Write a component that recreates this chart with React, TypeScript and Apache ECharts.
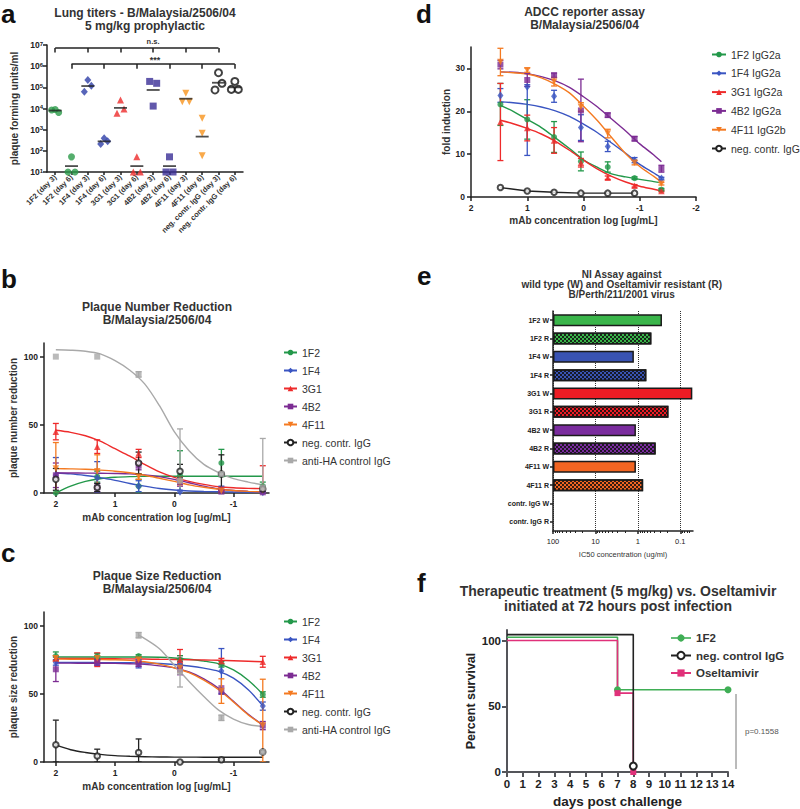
import React, { useEffect, useRef } from 'react';
import * as echarts from 'echarts';

const FONT = 'Liberation Sans, Arial, sans-serif';
const INK = '#222';
const TXT = '#333';

/* ================= panel a: lung titers ================= */
const aCategories = ['1F2 (day 3)', '1F2 (day 6)', '1F4 (day 3)', '1F4 (day 6)', '3G1 (day 3)', '3G1 (day 6)', '4B2 (day 3)', '4B2 (day 6)', '4F11 (day 3)', '4F11 (day 6)', 'neg. contr. IgG (day 3)', 'neg. contr. IgG (day 6)'];
const aGroups = ['1F2', '1F2', '1F4', '1F4', '3G1', '3G1', '4B2', '4B2', '4F11', '4F11', 'neg', 'neg'];
const aTiters = [
  [8500, 6500, 9000],
  [10, 10, 52],
  [62000, 120000, 220000],
  [210, 280, 390],
  [5900, 9500, 25000],
  [10, 10, 52],
  [190000, 155000, 13000],
  [10, 10, 52],
  [21000, 21000, 53000],
  [3500, 680, 59],
  [75000, 155000, 490000],
  [80000, 80000, 190000],
];
const aMeans = [8000, 19, 115000, 280, 10700, 19, 75000, 19, 29000, 470, 165000, 100000];
const aYTicks = [10, 100, 1000, 10000, 100000, 1000000, 10000000];
const nsBracket = { from: 0, to: 10, step: 2, level: 7.2e6, foot: 4.4e6, label: 'n.s.' };
const sigBracket = { from: 1, to: 11, step: 2, level: 1.26e6, foot: 7.6e5, label: '***' };

/* ================= panel b: plaque number reduction ================= */
const bLogConc = [2, 1.301, 0.602, -0.097, -0.796, -1.495];
const b1F2 = [0, 12, 5, 13, 22, 5];
const b1F2Sd = [0, 4, 5, 18, 10, 3];
const b1F4 = [13, 11, 5, 1, 2, 0.5];
const b1F4Sd = [13, 12, 4, 1, 3, 0.5];
const b3G1 = [45, 34, 29, 10, 3, 4];
const b3G1Sd = [6, 5, 3, 2, 1, 16];
const b4B2 = [13, 4, 20, 8, 1, 0.5];
const b4B2Sd = [9, 3, 3, 3, 1, 0.5];
const b4F11 = [18, 16, 12, 8, 1.5, 2];
const b4F11Sd = [19, 12, 2, 2, 1, 2];
const bNeg = [10, 4, 22, 16, 14, 3];
const bNegSd = [8, 3, 8, 5, 14, 2];
const bAntiHA = [100, 100, 87, 9, 14, 4];
const bAntiHASd = [0, 0, 2, 38, 0, 36];
const bFitX = [2, 1.75, 1.5, 1.25, 1, 0.75, 0.5, 0.25, 0, -0.25, -0.5, -0.75, -1, -1.25, -1.5];
const bFit1F2 = [0, 5, 8.5, 10.5, 11.5, 12, 12.2, 12.3, 12.3, 12.3, 12.3, 12.3, 12.3, 12.3, 12.3];
const bFit1F4 = [14.7, 14, 12.8, 11.3, 9.3, 7, 5, 3.3, 2.2, 1.5, 1.1, 0.9, 0.7, 0.6, 0.6];
const bFit3G1 = [46, 44.5, 42, 38, 32.5, 27, 21, 15.5, 11.5, 8.5, 6.3, 4.6, 3.8, 3.4, 3.2];
const bFit4B2 = [14.7, 14.7, 14.6, 14.5, 14.3, 14, 13.3, 12, 10, 7.5, 5, 3, 1.8, 1.2, 0.8];
const bFit4F11 = [17.9, 17.7, 17.4, 16.8, 16, 14.8, 13, 10.8, 8.5, 6, 4.2, 2.8, 1.8, 1.2, 0.8];
const bFitAntiHA = [105, 104.7, 104, 102, 97, 90, 80, 64, 45, 31, 21, 15, 10.5, 8, 6];

/* ================= panel c: plaque size reduction ================= */
const cLogConc = [2, 1.301, 0.602, -0.097, -0.796, -1.495];
const c1F2 = [77.7, 77.7, 77.7, 75, 71.6, 49.5];
const c1F2Sd = [3, 2, 1, 3, 2, 2];
const c1F4 = [73, 73, 72, 71.6, 66.7, 41];
const c1F4Sd = [2, 2, 3, 2, 16.5, 3];
const c3G1 = [76, 75, 74.8, 75, 74, 73.5];
const c3G1Sd = [2, 5, 2, 7.5, 2, 4];
const c4B2 = [68, 73, 72, 68, 52.7, 26.7];
const c4B2Sd = [9, 2, 2, 4, 3, 3];
const c4F11 = [76, 76, 75, 69, 52, 26.7];
const c4F11Sd = [2, 2, 2, 3, 9, 34];
const cNeg = [12.7, 4.4, 6.9, 0, 1.7, 7.4];
const cNegSd = [18, 5, 10, 0, 0.5, 1];
const cAntiHA = [null, null, 93, 66, 32.4, 7.4];
const cAntiHASd = [null, null, 2, 11, 2, 1];
const cFitX = [2, 1.75, 1.5, 1.25, 1, 0.75, 0.5, 0.25, 0, -0.25, -0.5, -0.75, -1, -1.25, -1.5];
const cFit1F2 = [77, 77, 77, 77, 77, 77, 77, 76.8, 76.3, 75.3, 74, 72, 67.5, 60, 49.5];
const cFit1F4 = [73, 73, 73, 72.9, 72.9, 72.8, 72.6, 72.2, 71.5, 70.4, 68.8, 66.5, 61.5, 53, 41];
const cFit3G1 = [76, 75.9, 75.9, 75.8, 75.7, 75.6, 75.5, 75.3, 75.2, 75, 74.8, 74.6, 74.3, 73.9, 73.5];
const cFit4B2 = [72.5, 72.5, 72.4, 72.4, 72.3, 72, 71.6, 70.5, 69, 66, 61, 54, 44.5, 35, 27];
const cFit4F11 = [75.5, 75.4, 75.3, 75.2, 75, 74.5, 73.5, 71.8, 69, 65.5, 60, 53, 44, 34.5, 27];
const cFitNeg = [12.5, 9, 7, 5.6, 4.7, 4.2, 3.9, 3.7, 3.6, 3.6, 3.5, 3.5, 3.5, 3.5, 3.5];
const cFitAntiHAX = [0.602, 0.5, 0.25, 0, -0.25, -0.5, -0.75, -1, -1.25, -1.5];
const cFitAntiHA = [93, 90.5, 83, 71, 59, 48, 38, 31.5, 27.5, 26];

/* ================= panel d: ADCC reporter assay ================= */
const dLogConc = [1.477, 1.0, 0.523, 0.046, -0.431, -0.908, -1.385];
const d1F2 = [21.6, 18.1, 14.0, 8.3, 7.0, 4.4, 1.7];
const d1F2Sd = [4.9, 4.6, 3.6, 2.2, 1.2, 0.3, 0.3];
const d1F4 = [23.7, 25.7, 23.5, 16.2, 11.8, 8.6, 4.3];
const d1F4Sd = [1.6, [16, 0.5], 1.4, 3, 1.2, 0.6, 0.3];
const d3G1 = [17.5, 16.1, 13.2, 8.0, 4.5, 2.6, 1.4];
const d3G1Sd = [9, 3, 3, 1, 0.4, 0.3, 0.2];
const d4B2 = [30.9, 27.3, 28.4, 20.2, 19.1, 13.6, 6.6];
const d4B2Sd = [1, 1.5, 0.5, 7.3, 0.5, 0.5, 0.8];
const d4F11 = [31.5, 29.6, 26.9, 21, 14.8, 8, 3.1];
const d4F11Sd = [3.2, 0.5, 1, 1, 1, 0.5, 0.3];
const dNeg = [2.2, 1.4, 1.1, 0.9, 0.9, 0.9, null];
const dFitX = [1.477, 1.25, 1, 0.75, 0.5, 0.25, 0, -0.25, -0.5, -0.75, -1, -1.25, -1.385];
const dFit1F2 = [21.4, 20, 18.1, 16.2, 13.8, 11.3, 8.7, 6.9, 5.4, 4.7, 4.1, 3.6, 3.3];
const dFit1F4 = [22.2, 22, 21.6, 21, 20.1, 18.8, 17, 15, 12.6, 10.2, 7.6, 5.6, 4.5];
const dFit3G1 = [17.9, 17.1, 16, 14.7, 13, 10.9, 8.6, 6.5, 4.8, 3.5, 2.5, 1.8, 1.4];
const dFit4B2 = [29.2, 29.1, 28.8, 28.1, 27.1, 25.6, 23.4, 21, 18.2, 15.4, 12.4, 9.8, 8.2];
const dFit4F11 = [29.2, 29, 28.7, 27.8, 26.3, 24.3, 21.2, 17.8, 13.9, 10.1, 7.1, 4.8, 3.5];

/* ================= panel e: NI assay ================= */
const niLabels = ['1F2 W', '1F2 R', '1F4 W', '1F4 R', '3G1 W', '3G1 R', '4B2 W', '4B2 R', '4F11 W', '4F11 R', 'contr. IgG W', 'contr. IgG R'];
const niIC50 = [0.27, 0.48, 1.24, 0.63, 0.052, 0.19, 1.11, 0.38, 1.11, 0.75, null, null];
const niTickLabels = ['100', '10', '1', '0.1'];
const niMinorTickValues = [90, 80, 70, 60, 50, 40, 30, 20, 9, 8, 7, 6, 5, 4, 3, 2, 0.9, 0.8, 0.7, 0.6, 0.5, 0.4, 0.3, 0.2, 0.09, 0.08, 0.07, 0.06];
const niBarColors = ['#3ab54a', '#3ab54a', '#3953b3', '#3953b3', '#ed1c24', '#ed1c24', '#7a2c9e', '#7a2c9e', '#f26522', '#f26522', '#000', '#000'];

/* ================= panel f: survival ================= */
const f1F2Days = [0, 7, 14];
const f1F2Surv = [100, 60, 60];
const fNegDays = [0, 8];
const fNegSurv = [100, 0];
const fOselDays = [0, 7, 8];
const fOselSurv = [100, 60, 0];
const fPValue = 'p=0.1558';

/* ================= styling ================= */
const COL: any = { '1F2': '#23984a', '1F4': '#3a55c2', '3G1': '#ee2b2b', '4B2': '#7c2c93', '4F11': '#f47a21', neg: '#222222', antiHA: '#a9a9a9' };
const A_COL: any = { '1F2': '#2a9a48', '1F4': '#2e3ea8', '3G1': '#ee2b2b', '4B2': '#3a2e96', '4F11': '#f7941d', neg: '#111111' };
const SYM: any = { '1F2': 'circle', '1F4': 'diamond', '3G1': 'triangle', '4B2': 'rect', '4F11': 'triangle', neg: 'emptyCircle', antiHA: 'rect' };
const SYM_SIZE: any = { '1F2': 6, '1F4': [6, 8], '3G1': 6.5, '4B2': 6, '4F11': 6.5, neg: 5.5, antiHA: 6 };
const ROT: any = { '4F11': 180 };
const aJitter = [-3.5, 3.5, 0];
const aJitterScale = [1, 1, 1, 1, 1, 1, 1, 1, 1, 0, 1, 1];

function errorBarRender(color: string) {
  return (params: any, api: any) => {
    const x = api.value(0);
    const lo = api.value(2);
    const hi = api.value(3);
    const top = api.coord([x, hi]);
    const bot = api.coord([x, lo]);
    const st = { stroke: color, lineWidth: 1.3 };
    const cap = 3;
    return {
      type: 'group',
      children: [
        { type: 'line', shape: { x1: top[0], y1: top[1], x2: bot[0], y2: bot[1] }, style: st },
        { type: 'line', shape: { x1: top[0] - cap, y1: top[1], x2: top[0] + cap, y2: top[1] }, style: st },
        { type: 'line', shape: { x1: bot[0] - cap, y1: bot[1], x2: bot[0] + cap, y2: bot[1] }, style: st },
      ],
    };
  };
}

function errData(xs: number[], means: any[], errs: any[]) {
  const out: any[] = [];
  xs.forEach((x, i) => {
    const m = means[i];
    const e = errs ? errs[i] : null;
    if (m == null || e == null) return;
    const dn = Array.isArray(e) ? e[0] : e;
    const up = Array.isArray(e) ? e[1] : e;
    if (dn === 0 && up === 0) return;
    out.push([x, m, Math.max(m - dn, 0), m + up]);
  });
  return out;
}

const zip = (xs: number[], ys: any[]) => xs.map((x, i) => [x, ys[i]]).filter((p) => p[1] != null);

function doseSeries(grid: number, legendName: string, key: string, xs: number[], means: any[], errs: any[] | null, fit: any[] | null, connect = false) {
  const color = COL[key];
  const out: any[] = [];
  if (fit || connect) {
    out.push({
      type: 'line', name: legendName, xAxisIndex: grid, yAxisIndex: grid,
      data: connect ? zip(xs, means) : fit,
      symbol: SYM[key], symbolRotate: ROT[key] || 0, showSymbol: false,
      smooth: connect ? false : 0.3,
      lineStyle: { color, width: 1.4 }, itemStyle: { color }, z: 2, silent: true,
    });
  }
  if (errs) {
    out.push({
      type: 'custom', name: legendName + ' sd', xAxisIndex: grid, yAxisIndex: grid,
      data: errData(xs, means, errs), renderItem: errorBarRender(color), encode: { x: 0, y: 1 }, z: 3, silent: true, clip: true,
    });
  }
  out.push({
    type: 'scatter', name: legendName + ' mean', xAxisIndex: grid, yAxisIndex: grid,
    data: zip(xs, means),
    symbol: SYM[key], symbolRotate: ROT[key] || 0, symbolSize: SYM_SIZE[key],
    itemStyle: key === 'neg' ? { color, borderColor: color, borderWidth: 1.4 } : { color }, z: 4, silent: true,
  });
  return out;
}

function axisStyle(extra: any = {}) {
  const base: any = {
    axisLine: { show: true, onZero: false, lineStyle: { color: INK, width: 1.5 } },
    axisTick: { show: true, length: 4, lineStyle: { color: INK, width: 1.5 } },
    axisLabel: { color: INK, fontSize: 8.5, fontWeight: 'bold', fontFamily: FONT, margin: 4 },
    splitLine: { show: false },
    nameTextStyle: { color: TXT, fontSize: 9, fontWeight: 'bold', fontFamily: FONT },
  };
  const out: any = { ...base, ...extra };
  ['axisLine', 'axisTick', 'axisLabel', 'splitLine', 'nameTextStyle'].forEach((k) => {
    if (extra[k]) out[k] = { ...base[k], ...extra[k] };
  });
  return out;
}

const ticks = (vals: number[], extraTick: any = {}, extraLabel: any = {}) => ({
  axisTick: { customValues: vals, ...extraTick },
  axisLabel: { customValues: vals, ...extraLabel },
});

const titleStyle = (size: number, lh: number) => ({ fontSize: size, fontWeight: 'bold', lineHeight: lh, color: TXT, fontFamily: FONT });

function buildOption() {
  const series: any[] = [];

  /* ---- a ---- */
  aTiters.forEach((vals, ci) => {
    const g = aGroups[ci];
    series.push({
      type: 'scatter', name: 'a ' + aCategories[ci], xAxisIndex: 0, yAxisIndex: 0,
      data: vals.map((v, j) => ({ value: [ci, v], symbolOffset: [aJitter[j] * aJitterScale[ci], 0] })),
      symbol: SYM[g], symbolRotate: ROT[g] || 0, symbolSize: g === '1F4' ? [7, 8] : 7,
      itemStyle: g === 'neg' ? { color: A_COL[g], borderColor: A_COL[g], borderWidth: 2 } : { color: A_COL[g] },
      z: 3, silent: true,
    });
  });
  series.push({
    type: 'scatter', name: 'a means', xAxisIndex: 0, yAxisIndex: 0,
    data: aMeans.map((m, i) => [i, m]), symbol: 'rect', symbolSize: [13, 1.8],
    itemStyle: { color: INK }, z: 5, silent: true,
  });
  const bracketLines: any[] = [];
  [nsBracket, sigBracket].forEach((b) => {
    bracketLines.push({ coords: [[b.from, b.level], [b.to, b.level]] });
    for (let c = b.from; c <= b.to; c += b.step) bracketLines.push({ coords: [[c, b.level], [c, b.foot]] });
  });
  series.push({
    type: 'lines', coordinateSystem: 'cartesian2d', xAxisIndex: 0, yAxisIndex: 0,
    data: bracketLines, lineStyle: { color: INK, width: 1.5, opacity: 1 }, silent: true, z: 4,
  });

  /* ---- c (first, so legend icons come from fitted curves) ---- */
  series.push(...doseSeries(2, '1F2', '1F2', cLogConc, c1F2, c1F2Sd, zip(cFitX, cFit1F2)));
  series.push(...doseSeries(2, '1F4', '1F4', cLogConc, c1F4, c1F4Sd, zip(cFitX, cFit1F4)));
  series.push(...doseSeries(2, '3G1', '3G1', cLogConc, c3G1, c3G1Sd, zip(cFitX, cFit3G1)));
  series.push(...doseSeries(2, '4B2', '4B2', cLogConc, c4B2, c4B2Sd, zip(cFitX, cFit4B2)));
  series.push(...doseSeries(2, '4F11', '4F11', cLogConc, c4F11, c4F11Sd, zip(cFitX, cFit4F11)));
  series.push(...doseSeries(2, 'neg. contr. IgG', 'neg', cLogConc, cNeg, cNegSd, zip(cFitX, cFitNeg)));
  series.push(...doseSeries(2, 'anti-HA control IgG', 'antiHA', cLogConc, cAntiHA, cAntiHASd, zip(cFitAntiHAX, cFitAntiHA)));

  /* ---- b ---- */
  series.push(...doseSeries(1, '1F2', '1F2', bLogConc, b1F2, b1F2Sd, zip(bFitX, bFit1F2)));
  series.push(...doseSeries(1, '1F4', '1F4', bLogConc, b1F4, b1F4Sd, zip(bFitX, bFit1F4)));
  series.push(...doseSeries(1, '3G1', '3G1', bLogConc, b3G1, b3G1Sd, zip(bFitX, bFit3G1)));
  series.push(...doseSeries(1, '4B2', '4B2', bLogConc, b4B2, b4B2Sd, zip(bFitX, bFit4B2)));
  series.push(...doseSeries(1, '4F11', '4F11', bLogConc, b4F11, b4F11Sd, zip(bFitX, bFit4F11)));
  series.push(...doseSeries(1, 'neg. contr. IgG', 'neg', bLogConc, bNeg, bNegSd, null));
  series.push(...doseSeries(1, 'anti-HA control IgG', 'antiHA', bLogConc, bAntiHA, bAntiHASd, zip(bFitX, bFitAntiHA)));

  /* ---- d ---- */
  series.push(...doseSeries(3, '1F2 IgG2a', '1F2', dLogConc, d1F2, d1F2Sd, zip(dFitX, dFit1F2)));
  series.push(...doseSeries(3, '1F4 IgG2a', '1F4', dLogConc, d1F4, d1F4Sd, zip(dFitX, dFit1F4)));
  series.push(...doseSeries(3, '3G1 IgG2a', '3G1', dLogConc, d3G1, d3G1Sd, zip(dFitX, dFit3G1)));
  series.push(...doseSeries(3, '4B2 IgG2a', '4B2', dLogConc, d4B2, d4B2Sd, zip(dFitX, dFit4B2)));
  series.push(...doseSeries(3, '4F11 IgG2b', '4F11', dLogConc, d4F11, d4F11Sd, zip(dFitX, dFit4F11)));
  series.push(...doseSeries(3, 'neg. contr. IgG', 'neg', dLogConc, dNeg, null, null, true));

  /* ---- e ---- */
  series.push({
    type: 'bar', name: 'IC50', xAxisIndex: 4, yAxisIndex: 4, barWidth: 12, silent: true,
    data: niIC50.map((v, i) => {
      if (v == null) return null;
      const resistant = niLabels[i].endsWith('R');
      return {
        value: 2 - Math.log10(v),
        itemStyle: {
          color: niBarColors[i], borderColor: '#1a1a1a', borderWidth: 1.5,
          decal: resistant
            ? { symbol: 'rect', symbolSize: 1, color: 'rgba(15,15,15,0.85)', dashArrayX: [[2, 2], [0, 2, 2, 0]], dashArrayY: [2, 0], rotation: 0 }
            : undefined,
        },
      };
    }),
  });

  /* ---- f ---- */
  const fSets = [
    { name: '1F2', days: f1F2Days, surv: f1F2Surv, color: '#3fae55', symbol: 'circle', lift: 2.5, size: 7 },
    { name: 'neg. control IgG', days: fNegDays, surv: fNegSurv, color: '#222222', symbol: 'emptyCircle', lift: 4.5, size: 7 },
    { name: 'Oseltamivir', days: fOselDays, surv: fOselSurv, color: '#e0317a', symbol: 'rect', lift: 0, size: 6 },
  ];
  fSets.forEach((s) => {
    series.push({
      type: 'line', name: s.name, xAxisIndex: 5, yAxisIndex: 5, step: 'end', silent: true,
      data: s.days.map((d, i) => ({ value: [d, s.surv[i] + s.lift], symbol: i === 0 ? 'none' : s.symbol })),
      symbol: s.symbol, symbolSize: s.size, showSymbol: true,
      lineStyle: { color: s.color, width: 1.6 },
      itemStyle: s.symbol === 'emptyCircle' ? { color: s.color, borderColor: s.color, borderWidth: 1.6 } : { color: s.color },
      z: s.name === 'neg. control IgG' ? 3 : 2,
    });
  });

  const legendText = { fontSize: 10.5, lineHeight: 10, color: TXT, fontFamily: FONT };

  return {
    animation: false,
    backgroundColor: '#fff',
    title: [
      { text: 'Lung titers - B/Malaysia/2506/04\n5 mg/kg prophylactic', left: 145, top: 6.5, textAlign: 'center', padding: 0, textStyle: titleStyle(12, 12.7) },
      { text: 'Plaque Number Reduction\nB/Malaysia/2506/04', left: 157, top: 300, textAlign: 'center', padding: 0, textStyle: titleStyle(12, 13.3) },
      { text: 'Plaque Size Reduction\nB/Malaysia/2506/04', left: 157, top: 569.5, textAlign: 'center', padding: 0, textStyle: titleStyle(12, 13.3) },
      { text: 'ADCC reporter assay\nB/Malaysia/2506/04', left: 584.5, top: 5, textAlign: 'center', padding: 0, textStyle: titleStyle(12, 13.3) },
      { text: 'NI Assay against\nwild type (W) and Oseltamivir resistant (R)\nB/Perth/211/2001 virus', left: 621.7, top: 270, textAlign: 'center', padding: 0, textStyle: titleStyle(10, 9.7) },
      { text: 'Therapeutic treatment (5 mg/kg) vs. Oseltamivir\ninitiated at 72 hours post infection', left: 618, top: 584, textAlign: 'center', padding: 0, textStyle: titleStyle(14, 14.5) },
    ],
    legend: [
      { data: ['1F2', '1F4', '3G1', '4B2', '4F11', 'neg. contr. IgG', 'anti-HA control IgG'], left: 283, top: 347, orient: 'vertical', itemWidth: 13, itemHeight: 7, itemGap: 7, padding: 0, selectedMode: false, textStyle: legendText },
      { data: ['1F2', '1F4', '3G1', '4B2', '4F11', 'neg. contr. IgG', 'anti-HA control IgG'], left: 283, top: 616, orient: 'vertical', itemWidth: 13, itemHeight: 7, itemGap: 7, padding: 0, selectedMode: false, textStyle: legendText },
      { data: ['1F2 IgG2a', '1F4 IgG2a', '3G1 IgG2a', '4B2 IgG2a', '4F11 IgG2b', 'neg. contr. IgG'], left: 711, top: 49, orient: 'vertical', itemWidth: 14, itemHeight: 7, itemGap: 7.8, padding: 0, selectedMode: false, textStyle: legendText },
      {
        data: [
          { name: '1F2', itemStyle: { color: '#3fae55' }, lineStyle: { color: '#3fae55', width: 1.6 } },
          { name: 'neg. control IgG' },
          { name: 'Oseltamivir' },
        ],
        left: 670, top: 632, orient: 'vertical', itemWidth: 20, itemHeight: 9, itemGap: 5.5, padding: 0, selectedMode: false,
        textStyle: { fontSize: 11.5, lineHeight: 11, fontWeight: 'bold', color: TXT, fontFamily: FONT },
      },
    ],
    grid: [
      { left: 47, top: 45, width: 196, height: 127 },
      { left: 44, top: 343, width: 225, height: 150 },
      { left: 44, top: 612, width: 225, height: 150 },
      { left: 471, top: 47, width: 225, height: 150 },
      { left: 553, top: 311, width: 140, height: 220 },
      { left: 507, top: 630, width: 221, height: 144 },
    ],
    xAxis: [
      axisStyle({
        gridIndex: 0, type: 'category', data: aCategories, boundaryGap: true,
        axisTick: { alignWithLabel: true, interval: 0, length: 3 },
        axisLabel: { rotate: 45, interval: 0, fontSize: 7.5, margin: 4, color: '#333' },
      }),
      axisStyle({
        gridIndex: 1, type: 'value', inverse: true, min: -1.6, max: 2.2,
        ...ticks([2, 1, 0, -1]), axisLabel: { customValues: [2, 1, 0, -1], margin: 6 },
        name: 'mAb concentration log [ug/mL]', nameLocation: 'middle', nameGap: 19, nameTextStyle: { fontSize: 10 },
      }),
      axisStyle({
        gridIndex: 2, type: 'value', inverse: true, min: -1.6, max: 2.2,
        ...ticks([2, 1, 0, -1]), axisLabel: { customValues: [2, 1, 0, -1], margin: 6 },
        name: 'mAb concentration log [ug/mL]', nameLocation: 'middle', nameGap: 19, nameTextStyle: { fontSize: 10 },
      }),
      axisStyle({
        gridIndex: 3, type: 'value', inverse: true, min: -2, max: 2, interval: 1,
        axisLabel: { margin: 6 },
        name: 'mAb concentration log [ug/mL]', nameLocation: 'middle', nameGap: 18, nameTextStyle: { fontSize: 10 },
      }),
      axisStyle({
        gridIndex: 4, type: 'value', min: 0, max: 3.3,
        axisTick: { length: 3, customValues: [0, 1, 2, 3] },
        axisLabel: { customValues: [0, 1, 2, 3], fontSize: 7.5, fontWeight: 'normal', margin: 6, formatter: (v: number) => niTickLabels[Math.round(v)] ?? '' },
        splitLine: { show: true, lineStyle: { color: '#333', type: 'dotted', width: 1 } },
        name: 'IC50 concentration (ug/ml)', nameLocation: 'middle', nameGap: 19, nameTextStyle: { fontSize: 7.5, fontWeight: 'normal' },
      }),
      axisStyle({
        gridIndex: 5, type: 'value', min: 0, max: 14, interval: 1,
        axisLine: { lineStyle: { width: 2 } }, axisTick: { length: 5, lineStyle: { width: 2 } },
        axisLabel: { fontSize: 11.5, margin: 6 },
        name: 'days post challenge', nameLocation: 'middle', nameGap: 22, nameTextStyle: { fontSize: 13.5, color: INK },
      }),
      axisStyle({
        gridIndex: 4, type: 'value', min: 0, max: 3.3, position: 'bottom',
        axisLine: { show: false },
        axisTick: { length: 2, lineStyle: { width: 1 }, customValues: niMinorTickValues.map((v) => 2 - Math.log10(v)) },
        axisLabel: { show: false },
      }),
    ],
    yAxis: [
      axisStyle({
        gridIndex: 0, type: 'log', logBase: 10, min: 10, max: 1e7, interval: 1,
        axisLabel: {
          margin: 4,
          formatter: (v: number) => '10{s|' + Math.round(Math.log10(v)) + '}',
          rich: { s: { fontSize: 6, fontWeight: 'bold', verticalAlign: 'top', color: INK, fontFamily: FONT } },
        },
        name: 'plaque forming units/ml', nameLocation: 'middle', nameGap: 28, nameTextStyle: { fontSize: 10 },
      }),
      axisStyle({
        gridIndex: 1, type: 'value', min: 0, max: 110,
        axisTick: { customValues: [0, 50, 100] }, axisLabel: { customValues: [0, 50, 100], margin: 6 },
        name: 'plaque number reduction', nameLocation: 'middle', nameGap: 26, nameTextStyle: { fontSize: 10 },
      }),
      axisStyle({
        gridIndex: 2, type: 'value', min: 0, max: 110,
        axisTick: { customValues: [0, 50, 100] }, axisLabel: { customValues: [0, 50, 100], margin: 6 },
        name: 'plaque size reduction', nameLocation: 'middle', nameGap: 26, nameTextStyle: { fontSize: 10 },
      }),
      axisStyle({
        gridIndex: 3, type: 'value', min: 0, max: 35,
        axisTick: { customValues: [0, 10, 20, 30] }, axisLabel: { customValues: [0, 10, 20, 30], margin: 6 },
        name: 'fold induction', nameLocation: 'middle', nameGap: 18, nameTextStyle: { fontSize: 10 },
      }),
      axisStyle({
        gridIndex: 4, type: 'category', data: niLabels, inverse: true,
        axisTick: { length: 3, alignWithLabel: true, interval: 0 },
        axisLabel: { fontSize: 7, interval: 0, margin: 4 },
      }),
      axisStyle({
        gridIndex: 5, type: 'value', min: 0, max: 108,
        axisLine: { lineStyle: { width: 2 } }, axisTick: { length: 5, lineStyle: { width: 2 }, customValues: [0, 50, 100] },
        axisLabel: { customValues: [0, 50, 100], fontSize: 11.5, margin: 6 },
        name: 'Percent survival', nameLocation: 'middle', nameGap: 28, nameTextStyle: { fontSize: 12.5, color: INK },
      }),
    ],
    graphic: [
      ...[['a', 1, 13.5], ['b', 1, 279], ['c', 1, 553], ['d', 416, 13.5], ['e', 417, 276], ['f', 417, 583]].map((l) => ({
        type: 'text', x: l[1], y: l[2], silent: true,
        style: { text: l[0], font: 'bold 26px ' + FONT, fill: '#111', verticalAlign: 'middle' },
      })),
      { type: 'text', x: 153, y: 41, silent: true, style: { text: nsBracket.label, font: 'bold 7.5px ' + FONT, fill: TXT, align: 'center', verticalAlign: 'middle' } },
      { type: 'text', x: 155, y: 60, silent: true, style: { text: sigBracket.label, font: 'bold 9px ' + FONT, fill: TXT, align: 'center', verticalAlign: 'middle' } },
      { type: 'line', silent: true, shape: { x1: 736, y1: 694, x2: 736, y2: 769 }, style: { stroke: '#777', lineWidth: 1 } },
      { type: 'text', x: 745, y: 731, silent: true, style: { text: fPValue, font: '8px ' + FONT, fill: '#555', verticalAlign: 'middle' } },
    ],
    series,
  };
}

export default function App() {
  const ref = useRef<HTMLDivElement>(null);
  useEffect(() => {
    document.body.style.margin = '0';
    const chart = echarts.init(ref.current as HTMLDivElement, undefined, { renderer: 'svg' });
    chart.setOption(buildOption() as any);
    return () => chart.dispose();
  }, []);
  return <div ref={ref} style={{ width: 800, height: 809, background: '#fff' }} />;
}
